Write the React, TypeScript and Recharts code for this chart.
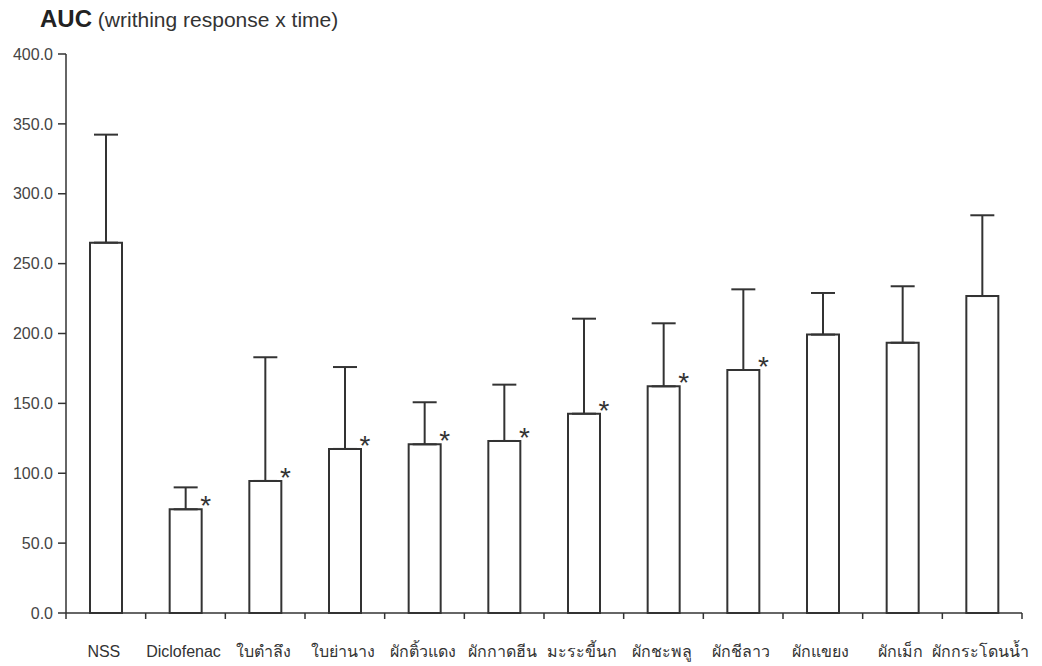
import React from "react";
import {
  BarChart,
  Bar,
  XAxis,
  YAxis,
  ErrorBar,
  LabelList,
} from "recharts";

// groups along the x axis
const groups = [
  "NSS",
  "Diclofenac",
  "ใบตำลึง",
  "ใบย่านาง",
  "ผักติ้วแดง",
  "ผักกาดฮีน",
  "มะระขี้นก",
  "ผักชะพลู",
  "ผักชีลาว",
  "ผักแขยง",
  "ผักเม็ก",
  "ผักกระโดนน้ำ",
];

// mean AUC and SD (upper error only)
const meanAuc = [265.0, 74.2, 94.5, 117.4, 120.7, 123.1, 142.6, 162.2, 173.9, 199.2, 193.4, 226.8];
const sdAuc = [77.3, 15.7, 88.5, 58.6, 30.1, 40.3, 68.0, 45.1, 57.7, 29.8, 40.4, 57.8];

// significant vs NSS
const significant = [false, true, true, true, true, true, true, true, true, false, false, false];

const yTicks = [0, 50, 100, 150, 200, 250, 300, 350, 400];

const rows = groups.map((name, i) => ({
  name,
  mean: meanAuc[i],
  err: [0, sdAuc[i]],
  sig: significant[i],
}));

const INK = "#333";
const FONT = "'Liberation Sans', Arial, Helvetica, sans-serif";

// label under each group, plus small tick marks on the group boundaries
const GroupTick = (props: any) => {
  const { x, y, payload, width, visibleTicksCount, index } = props;
  const band = width / visibleTicksCount;
  const left = x - band / 2;
  const right = x + band / 2;
  return (
    <g>
      <line x1={left} x2={left} y1={y} y2={y + 6} stroke={INK} strokeWidth={1.5} />
      {index === visibleTicksCount - 1 && (
        <line x1={right} x2={right} y1={y} y2={y + 6} stroke={INK} strokeWidth={1.5} />
      )}
      <text
        x={x - 2}
        y={y + 44}
        textAnchor="middle"
        fontSize={16}
        fontFamily={FONT}
        fill={INK}
      >
        {payload.value}
      </text>
    </g>
  );
};

const Star = (props: any) => {
  const { x, y, width, index } = props;
  if (!rows[index] || !rows[index].sig) return null;
  return (
    <text
      x={x + width + 4}
      y={y + 6}
      textAnchor="middle"
      fontSize={28}
      fontFamily={FONT}
      fill={INK}
    >
      *
    </text>
  );
};

export default function App() {
  return (
    <div style={{ position: "absolute", left: 0, top: 0, width: 1042, height: 666, background: "#fff" }}>
      <div
        style={{
          position: "absolute",
          left: 40,
          top: 5,
          fontFamily: FONT,
          color: "#222",
          whiteSpace: "nowrap",
          lineHeight: "28px",
        }}
      >
        <span style={{ fontSize: 24, fontWeight: "bold" }}>AUC</span>
        <span style={{ fontSize: 21, color: "#333" }}> (writhing response x time)</span>
      </div>
      <BarChart
        width={1042}
        height={666}
        data={rows}
        margin={{ top: 54, right: 20, left: 10, bottom: 8 }}
      >
        <XAxis
          xAxisId="cat"
          dataKey="name"
          interval={0}
          tickLine={false}
          tickSize={0}
          tickMargin={0}
          height={45}
          tick={<GroupTick />}
          axisLine={{ stroke: INK, strokeWidth: 1.5 }}
        />
        <XAxis
          xAxisId="top"
          orientation="top"
          type="number"
          domain={[0, groups.length]}
          allowDataOverflow
          tick={false}
          tickLine={false}
          height={0}
          axisLine={{ stroke: INK, strokeWidth: 1.5 }}
        />
        <YAxis
          yAxisId="left"
          domain={[0, 400]}
          ticks={yTicks}
          interval={0}
          width={56}
          tickSize={8}
          tickMargin={5}
          tickFormatter={(v: number) => v.toFixed(1)}
          tick={{ fontSize: 16, fontFamily: FONT, fill: "#444" }}
          axisLine={{ stroke: INK, strokeWidth: 1.5 }}
          tickLine={{ stroke: INK, strokeWidth: 1.5 }}
        />
        <YAxis
          yAxisId="right"
          orientation="right"
          domain={[0, 400]}
          width={0}
          tick={false}
          tickLine={false}
          axisLine={{ stroke: INK, strokeWidth: 1.5 }}
        />
        <Bar
          xAxisId="cat"
          yAxisId="left"
          dataKey="mean"
          fill="#fff"
          stroke={INK}
          strokeWidth={2}
          barSize={32}
          isAnimationActive={false}
        >
          <ErrorBar
            dataKey="err"
            direction="y"
            width={12}
            stroke={INK}
            strokeWidth={2}
            isAnimationActive={false}
          />
          <LabelList dataKey="mean" content={<Star />} />
        </Bar>
      </BarChart>
    </div>
  );
}
